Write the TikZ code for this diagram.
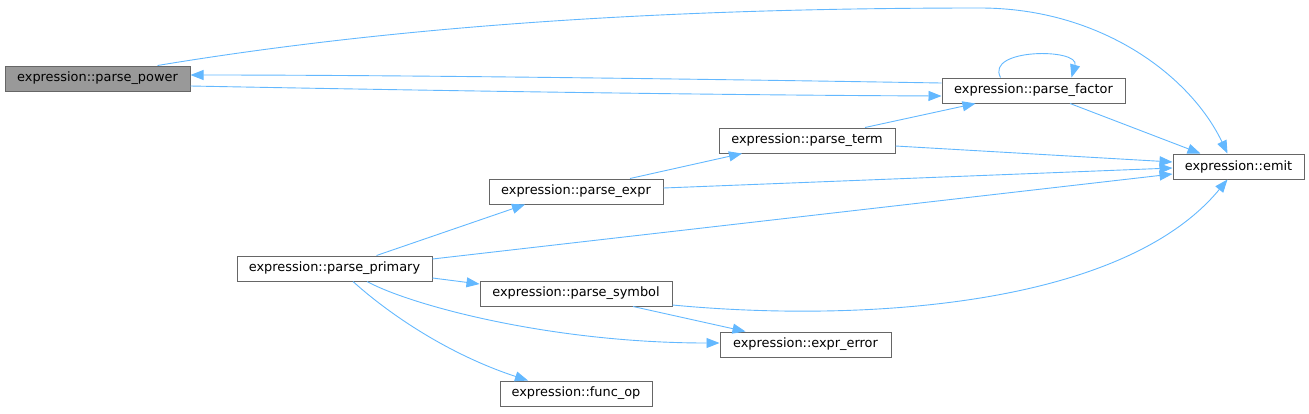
\documentclass[tikz,border=0pt]{standalone}
\usepackage{fontspec}
\setmainfont{DejaVu Sans}
\usetikzlibrary{arrows.meta}
\definecolor{edgecol}{HTML}{63B8FF}
\definecolor{bordercol}{HTML}{666666}
\definecolor{focusfill}{HTML}{999999}
\begin{document}
\begin{tikzpicture}[x=1pt,y=-1pt,
  fn/.style={draw=bordercol, line width=1pt, fill=white, minimum height=25pt, inner sep=0pt, font=\fontsize{12.9}{15}\selectfont, text=black},
  focus/.style={fn, fill=focusfill},
  edge/.style={draw=edgecol, line width=0.9pt, -{Triangle[length=13pt,width=10pt]}},
]
\useasboundingbox (0,0) rectangle (1309,413);
% nodes
\node[focus, minimum width=185pt] (power)   at (97.5,78.5)   {expression::parse\_power};
\node[fn, minimum width=183pt]    (factor)  at (1033.5,90.5) {expression::parse\_factor};
\node[fn, minimum width=176pt]    (term)    at (807,140.5)   {expression::parse\_term};
\node[fn, minimum width=131pt]    (emit)    at (1238.5,166.5){expression::emit};
\node[fn, minimum width=174pt]    (expr)    at (576,191.5)   {expression::parse\_expr};
\node[fn, minimum width=195pt]    (primary) at (334.5,268.5) {expression::parse\_primary};
\node[fn, minimum width=192pt]    (symbol)  at (576,293.5)   {expression::parse\_symbol};
\node[fn, minimum width=171pt]    (error)   at (805.5,344.5) {expression::expr\_error};
\node[fn, minimum width=152pt]    (funcop)  at (576,393.5)   {expression::func\_op};
% edges
\draw[edge] ([xshift=60]power.north) .. controls (420,22) and (700,8) .. (980,8)
  .. controls (1100,8) and (1190,75) .. ([xshift=-11]emit.north);
\draw[edge] ([yshift=7.5]factor.west) .. controls (700,79) and (400,75) .. ([yshift=3.5]power.east);
\draw[edge] ([yshift=-7.5]power.east) .. controls (400,90) and (700,95) .. ([yshift=-5.5]factor.west);
\draw[edge] ([xshift=-33]factor.north) .. controls (985,48) and (1080,48) .. ([xshift=38]factor.north);
\draw[edge] ([xshift=36.5]factor.south) -- ([xshift=-38]emit.north);
\draw[edge] ([xshift=58]term.north) -- ([xshift=-58]factor.south);
\draw[edge] ([yshift=-5.5]term.east) -- ([yshift=4.5]emit.west);
\draw[edge] ([xshift=54]expr.north) -- ([xshift=-65]term.south);
\draw[edge] ([yshift=3.5]expr.east) -- ([yshift=-1.5]emit.west);
\draw[edge] ([xshift=42]primary.north) -- ([xshift=-51]expr.south);
\draw[edge] ([yshift=9.5]primary.east) -- ([yshift=-7.5]emit.west);
\draw[edge] ([yshift=-9.5]primary.east) -- ([yshift=9.5]symbol.west);
\draw[edge] ([xshift=32.5]primary.south) .. controls (410,305) and (550,343) .. ([yshift=1.5]error.west);
\draw[edge] ([xshift=18.5]primary.south) .. controls (390,315) and (450,355) .. ([xshift=-48]funcop.north);
\draw[edge] ([yshift=-11.5]symbol.east) .. controls (850,322) and (1120,310) .. ([xshift=-11]emit.south);
\draw[edge] ([xshift=57]symbol.south) -- ([xshift=-60]error.north);
\end{tikzpicture}
\end{document}
